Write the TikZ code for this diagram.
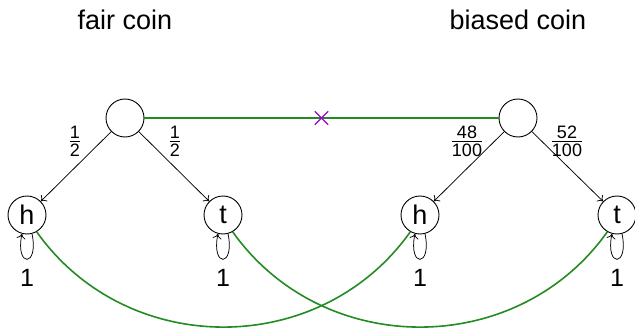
\documentclass[tikz,border=0pt]{standalone}
\usepackage{amsmath}
\usepackage{fontspec}
\setmainfont{Liberation Sans}
\usetikzlibrary{shapes.misc,arrows.meta}
\definecolor{edgegreen}{RGB}{34,139,34}
\definecolor{crossviolet}{RGB}{160,0,210}
\newcommand{\fr}[2]{$\frac{\hbox{\fontsize{18}{18}\selectfont #1}}{\hbox{\fontsize{18}{18}\selectfont #2}}$}
\tikzset{
  state/.style={circle,draw,line width=0.9pt,minimum size=38pt,inner sep=0pt,font=\fontsize{27}{27}\selectfont},
  title/.style={font=\fontsize{27}{27}\selectfont},
  prob/.style={font=\fontsize{25}{25}\selectfont,inner sep=0pt},
  trans/.style={-{To[length=5pt,width=9pt]},line width=0.75pt},
  link/.style={draw=edgegreen,line width=1.6pt},
}
\begin{document}
\begin{tikzpicture}[x=1pt,y=-1pt]
\useasboundingbox (0,0) rectangle (635,329);
\node[title] (t1) at (125,20) {fair coin};
\node[title] (t2) at (518,20) {biased coin};
\node[state] (r1) at (125,118) {};
\node[state] (r2) at (518,118) {};
\node[state] (h1) at (27,215) {h};
\node[state] (s1) at (223,215) {t};
\node[state] (h2) at (420,215) {h};
\node[state] (s2) at (617,215) {t};
\draw[trans] (r1) -- (h1);
\draw[trans] (r1) -- (s1);
\draw[trans] (r2) -- (h2);
\draw[trans] (r2) -- (s2);
\node[prob] (p1) at (75,141) {\fr{1}{2}};
\node[prob] (p2) at (175,141) {\fr{1}{2}};
\node[prob] (p3) at (467,141) {\fr{48}{100}};
\node[prob] (p4) at (567,141) {\fr{52}{100}};
\foreach \n in {h1,s1,h2,s2}{
  \draw[trans] (\n.-75) .. controls +(7,34) and +(-7,34) .. (\n.-105);
}
\node[prob] (l1) at (27,278) {1};
\node[prob] (l2) at (223,278) {1};
\node[prob] (l3) at (420,278) {1};
\node[prob] (l4) at (617,278) {1};
\draw[link] (h1.-60) .. controls +(90,127) and +(-90,127) .. (h2.-120);
\draw[link] (s1.-60) .. controls +(90,127) and +(-90,127) .. (s2.-120);
\draw[link] (r1) -- (r2) node[midway,cross out,draw=crossviolet,line width=1.4pt,minimum size=12pt,inner sep=0pt] (x) {};
\end{tikzpicture}
\end{document}
